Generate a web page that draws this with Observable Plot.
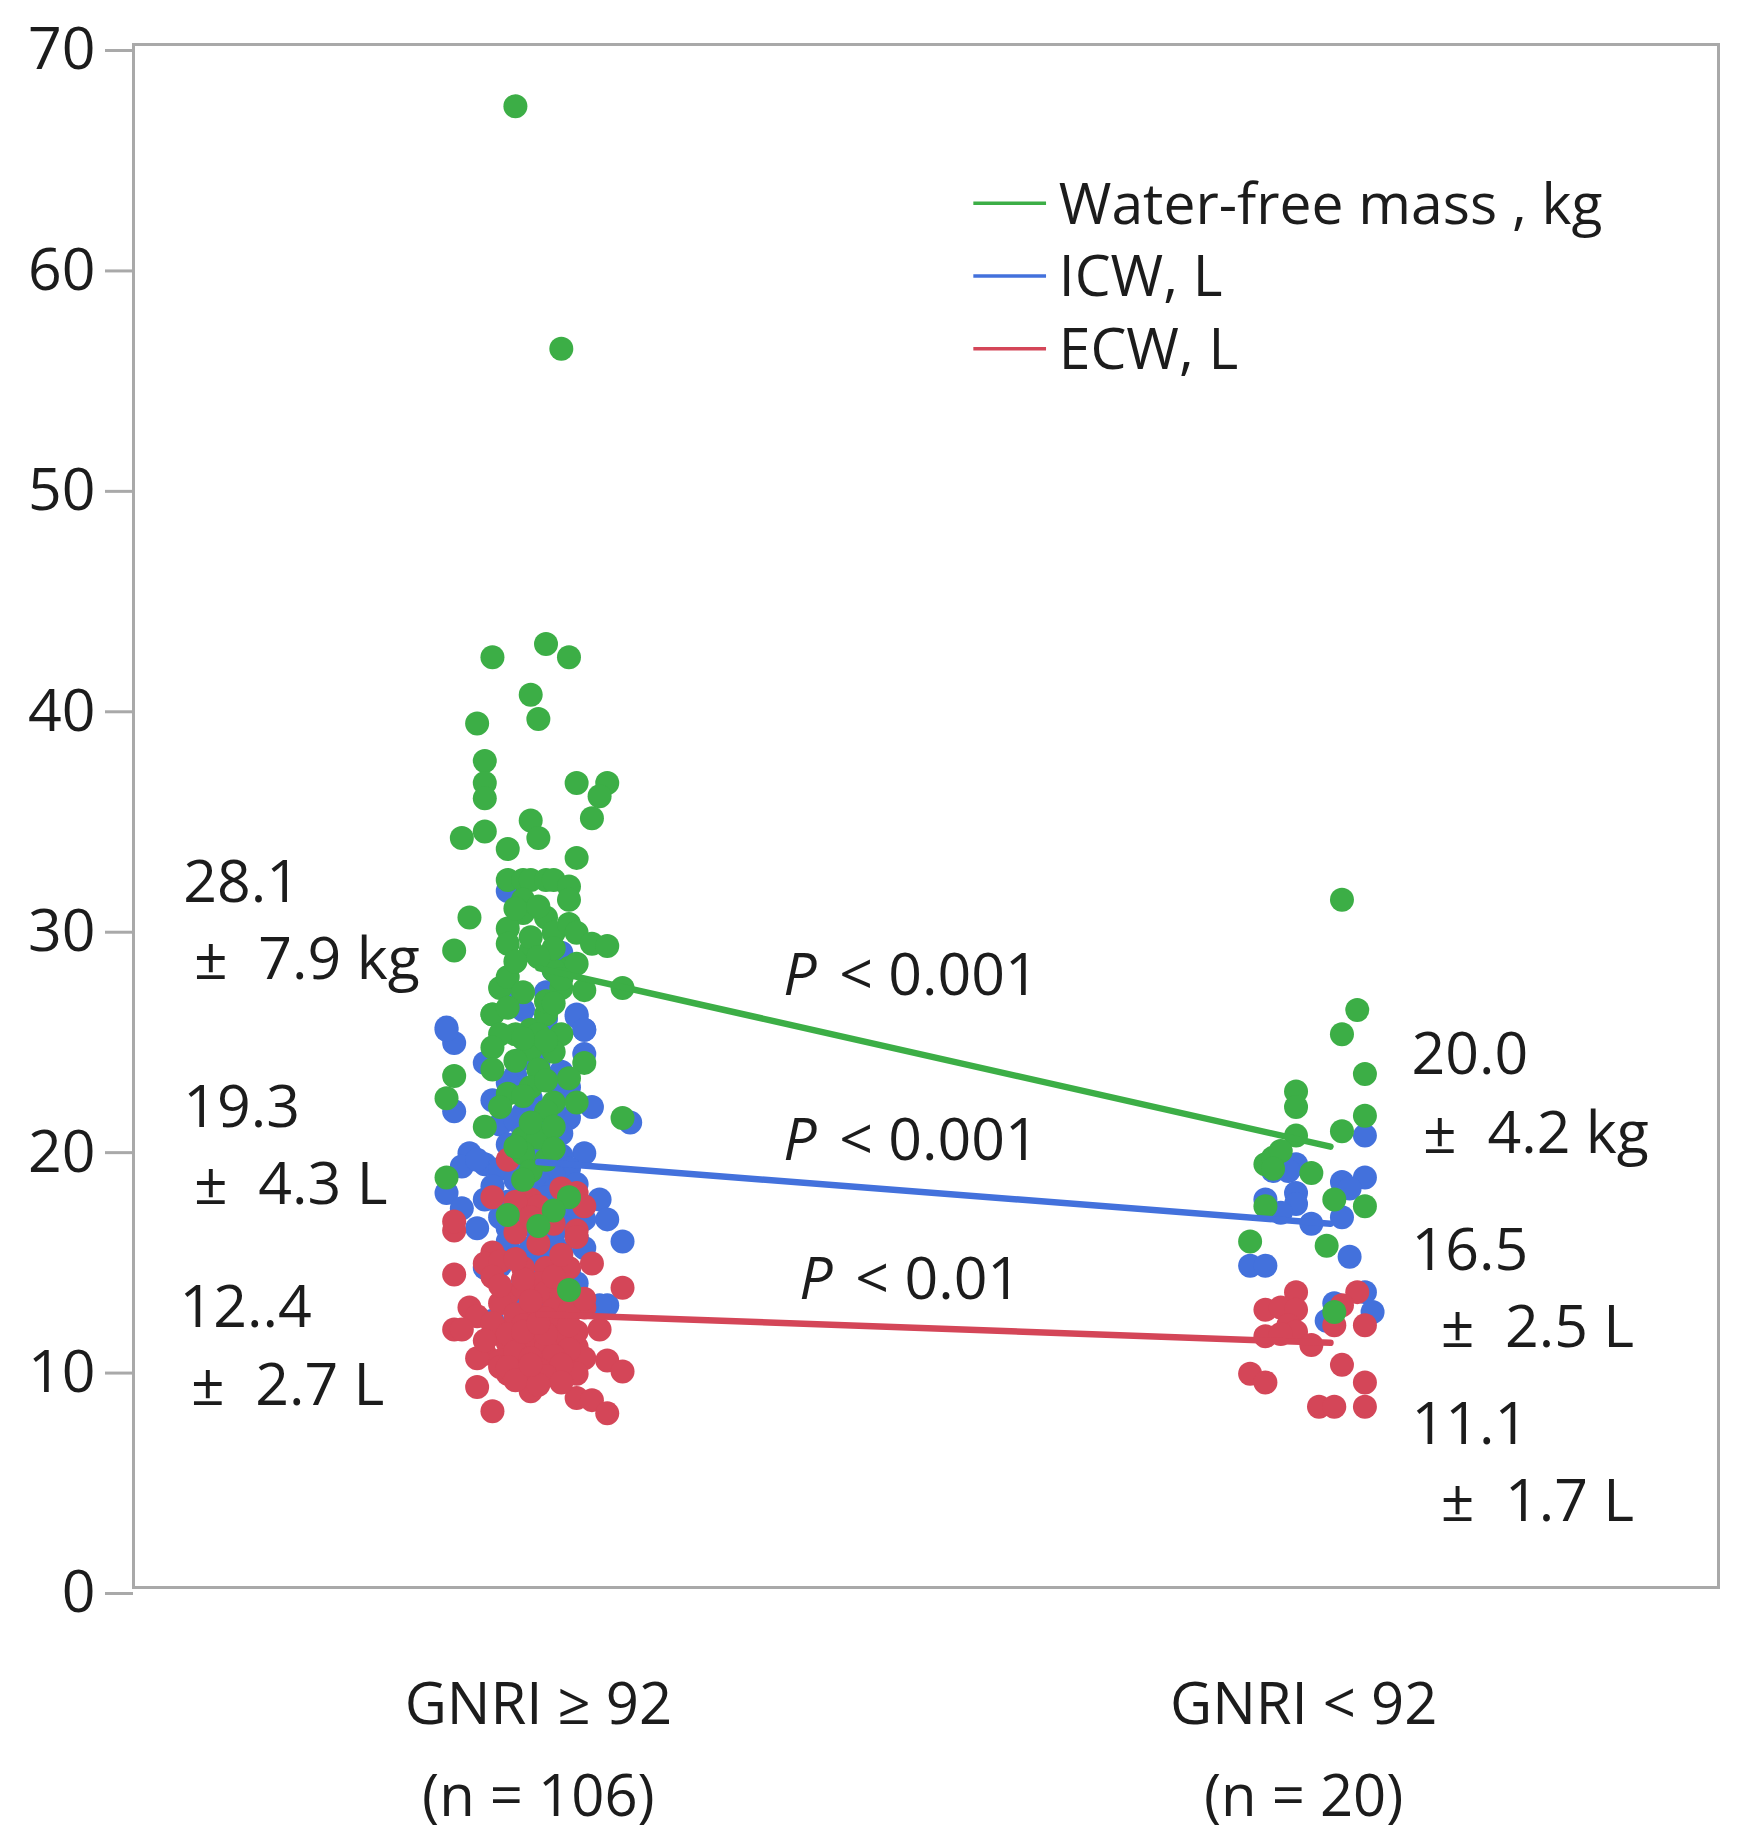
<!DOCTYPE html>
<html>
<head>
<meta charset="utf-8">
<script src="https://cdn.jsdelivr.net/npm/d3@7"></script>
<script src="https://cdn.jsdelivr.net/npm/@observablehq/plot@0.6"></script>
<style>
  body { margin: 0; background: #fff; }
  #chart svg { display: block; }
  #chart text { white-space: pre; }
</style>
</head>
<body>
<div id="chart"></div>
<script>
// categories and series
const groups = ["GNRI ≥ 92", "GNRI < 92"]
const groupN = ["(n = 106)", "(n = 20)"]
const series = ["Water-free mass , kg", "ICW, L", "ECW, L"]
const colors = ["#3cae46", "#4371dc", "#d44658"]
const yTicks = [0, 10, 20, 30, 40, 50, 60, 70]

// patients as [jitter, value], jitter (fraction of category spacing)
const wfmHigh = [
  [-0.03,67.2],[0.03,56.2],
  [-0.06,42.2],[0.01,42.8],[0.04,42.2],[-0.01,40.5],[-0.08,39.2],[0.00,39.4],[-0.07,37.5],[-0.07,36.5],
  [-0.07,35.8],[0.05,36.5],[0.09,36.5],[0.08,35.9],[0.07,34.9],[-0.01,34.8],[0.00,34.0],[-0.10,34.0],
  [-0.07,34.3],[-0.04,33.5],[0.05,33.1],
  [-0.04,32.1],[-0.02,32.1],[-0.01,32.1],[0.01,32.1],[0.02,32.1],
  [0.04,31.8],[0.04,31.2],[-0.02,31.2],[-0.02,30.6],[-0.09,30.4],[-0.04,29.9],[0.01,30.4],[0.02,29.7],
  [0.04,30.1],[0.05,29.7],[0.07,29.2],[0.09,29.1],[-0.11,28.9],[-0.04,29.2],[-0.01,28.9],
  [0.04,28.1],[0.05,28.3],[0.02,28.0],[0.11,27.2],[-0.05,27.2],[-0.04,27.7],[0.06,27.1],[0.03,27.2],
  [-0.06,26.0],[-0.01,25.3],
  [-0.06,26.0],[0.01,26.0],[-0.03,25.1],[-0.05,25.1],[0.00,25.1],[0.03,25.1],[-0.06,24.5],[-0.01,24.4],
  [0.06,23.8],[-0.06,23.5],[-0.11,23.2],[0.00,23.5],[0.04,23.1],[-0.01,22.7],[-0.04,22.4],[-0.12,22.2],
  [-0.05,21.8],[0.02,22.0],[0.05,22.0],[0.11,21.3],[-0.07,20.9],[-0.02,20.4],[0.00,20.4],[-0.02,19.7],
  [0.01,19.4],[-0.01,18.9],[-0.12,18.6],[0.04,17.7],[0.02,17.1],[-0.04,16.9],[0.00,16.4],[0.04,13.5],
  [-0.03,30.8],[0.00,30.9],[-0.01,29.5],[0.02,29.0],[-0.03,28.4],[0.00,28.6],[0.03,27.6],[-0.02,27.0],
  [0.01,26.6],[-0.04,26.3],[0.02,26.5],[-0.02,24.9],[0.02,24.3],[-0.03,23.9],[0.01,23.0],[-0.02,22.3],
  [0.01,21.6],[-0.01,21.1],[0.02,20.9],[-0.03,20.0],[0.02,19.9],[-0.02,18.5],[0.01,24.8]
]
const icwHigh = [
  [-0.12,25.4],[-0.11,24.7],[0.05,26.0],[0.06,25.3],[-0.07,23.8],[-0.03,23.2],[0.04,22.7],[-0.11,21.6],
  [-0.06,22.1],[0.04,21.3],[-0.02,21.5],[0.12,21.1],[-0.09,19.7],[-0.07,19.2],[-0.03,20.0],[0.06,19.7],
  [-0.12,17.9],[-0.10,17.2],[-0.07,17.6],[-0.08,16.3],[-0.04,16.3],[0.00,18.1],[0.02,16.1],[0.06,16.7],
  [0.08,17.6],[0.09,16.7],[0.11,15.7],[0.06,15.4],[-0.07,14.5],[0.05,13.8],[0.09,12.8],[0.08,12.8],
  [-0.06,12.1],[-0.01,15.0],[-0.01,22.2],
  [-0.03,26.8],[0.01,27.0],[-0.12,25.3],[0.05,25.9],[0.06,25.3],[-0.04,31.6],[0.03,28.8],
  [-0.10,19.1],[-0.08,19.4],[0.06,24.2],[0.02,23.1],[0.01,20.7],[-0.05,21.0],[0.07,21.8],
  [-0.02,24.0],[0.00,23.7],[-0.04,22.9],[0.03,22.5],[-0.01,21.9],[0.02,21.7],[-0.03,21.2],[0.00,21.0],
  [0.03,20.6],[-0.02,20.5],[0.01,20.2],[-0.04,20.1],[0.00,19.8],[0.03,19.6],[-0.02,19.5],[0.01,19.3],
  [-0.05,19.0],[0.04,19.0],[-0.01,18.8],[0.02,18.7],[-0.03,18.5],[0.00,18.4],[0.05,18.3],[-0.06,18.2],
  [0.02,18.0],[-0.02,17.8],[0.01,17.7],[-0.04,17.5],[0.03,17.4],[0.00,17.2],[-0.02,17.0],[0.04,16.9],
  [-0.05,16.8],[0.01,16.6],[-0.01,16.5],[0.03,16.4],[-0.03,16.2],[0.00,16.0],[0.05,15.9],[-0.04,15.7],
  [0.02,15.6],[-0.01,15.4],[0.03,15.2],[-0.03,15.0],[0.01,14.8],[-0.05,14.6],[0.04,14.4],[0.00,14.2],
  [-0.02,13.9],[0.02,13.6],[-0.03,13.2],[0.01,12.9],[0.03,23.4],[-0.01,24.5],[0.01,25.8],[-0.02,26.2],
  [0.02,28.0]
]
const ecwHigh = [
  [-0.04,19.4],[-0.06,17.7],[-0.01,17.6],[0.00,17.3],[0.03,18.1],[0.05,17.9],[0.06,17.3],[-0.11,16.2],
  [-0.11,16.6],[-0.03,16.1],[0.00,15.6],[0.05,16.2],[0.05,15.9],[-0.06,15.2],[-0.07,14.7],[-0.05,14.8],
  [-0.02,14.5],[0.07,14.7],[0.01,14.5],[0.04,14.5],[-0.11,14.2],[-0.06,14.1],[0.00,13.8],[-0.04,13.3],
  [0.11,13.6],[0.02,13.0],[-0.09,12.7],[-0.08,12.3],[-0.11,11.7],[-0.10,11.7],[-0.06,11.5],[-0.03,12.1],
  [0.00,12.3],[0.03,12.1],[0.06,12.7],[0.08,11.7],[-0.04,11.1],[-0.01,11.2],[0.02,11.1],[0.05,10.9],
  [-0.07,10.6],[-0.05,10.3],[-0.02,10.3],[0.01,10.2],[0.04,10.3],[0.06,10.4],[-0.04,9.7],[-0.01,9.5],
  [0.02,9.7],[0.05,9.7],[0.09,10.3],[0.11,9.8],[-0.08,9.1],[-0.01,8.9],[0.05,8.6],[0.07,8.5],
  [-0.06,8.0],[0.09,7.9],[-0.05,10.0],[0.00,10.6],[-0.08,10.4],[-0.03,17.5],
  [-0.02,13.6],[0.01,13.4],[0.03,13.2],[-0.05,12.9],[-0.01,12.8],[0.02,12.6],[0.04,12.5],[-0.03,12.4],
  [0.01,12.2],[-0.06,12.0],[-0.02,11.9],[0.02,11.8],[0.05,11.6],[-0.04,11.5],[0.00,11.4],[0.03,11.3],
  [-0.07,11.2],[-0.02,11.0],[0.01,10.9],[0.04,10.8],[-0.03,10.7],[0.02,10.5],[-0.01,10.4],[0.03,10.1],
  [-0.04,10.0],[0.00,9.9],[0.01,9.6],[-0.03,9.4],[0.03,9.3],[0.00,9.2],[-0.02,14.0],[0.02,14.1],
  [-0.03,14.9],[0.03,15.1],[-0.01,16.8],[0.02,16.5],[-0.05,13.7],[0.06,13.1],[-0.02,11.6],[0.01,11.5],
  [0.04,11.9],[-0.01,10.1],[0.00,12.0],[-0.01,13.0]
]
const wfmLow = [
  [0.05,31.2],[0.07,26.2],[0.05,25.1],[0.08,23.3],[-0.01,22.5],[-0.01,21.8],[0.08,21.4],[0.05,20.7],
  [-0.01,20.5],[-0.05,19.2],[-0.04,19.5],[-0.03,19.8],[0.01,18.8],[0.04,17.6],[0.08,17.3],[-0.05,17.3],
  [-0.07,15.7],[0.03,15.5],[0.04,12.5],[-0.04,19.0]
]
const icwLow = [
  [0.08,20.5],[-0.01,19.2],[-0.02,18.9],[0.05,18.4],[0.08,18.6],[0.06,18.1],[-0.01,17.9],[-0.01,17.4],
  [-0.05,17.6],[0.01,16.5],[0.06,15.0],[-0.07,14.6],[-0.05,14.6],[0.08,13.4],[0.09,12.5],[0.03,12.1],
  [0.04,12.9],[-0.04,18.9],[0.05,16.8],[-0.03,17.0]
]
const ecwLow = [
  [-0.01,13.4],[0.07,13.4],[-0.05,12.6],[-0.03,12.7],[-0.01,12.6],[0.05,12.8],[-0.05,11.4],[-0.02,11.9],
  [-0.01,11.6],[0.01,11.0],[0.04,11.9],[0.08,11.9],[0.05,10.1],[0.08,9.3],[-0.07,9.7],[-0.05,9.3],
  [0.02,8.2],[0.04,8.2],[0.08,8.2],[-0.03,11.5]
]

// group means (high, low) and the printed summaries
const meanWfm = [28.1, 20.0]
const meanIcw = [19.3, 16.5]
const meanEcw = [12.4, 11.1]
const leftLabels = ["28.1", "±  7.9 kg", "19.3", "±  4.3 L", "12..4", "±  2.7 L"]
const rightLabels = ["20.0", "±  4.2 kg", "16.5", "±  2.5 L", "11.1", "±  1.7 L"]
const pValues = ["< 0.001", "< 0.001", "< 0.01"]

const ink = "#1c1c1c"
const grid = "#a9a9a9"
const font = 59

// flatten into rows for the library
const rows = (pairs, g, s) => pairs.map(([j, v]) => ({x: g + j, v, s: series[s]}))
const dots = [
  ...rows(icwHigh, 0, 1), ...rows(icwLow, 1, 1),
  ...rows(ecwHigh, 0, 2), ...rows(ecwLow, 1, 2),
  ...rows(wfmHigh, 0, 0), ...rows(wfmLow, 1, 0)
]
const means = [meanWfm, meanIcw, meanEcw]
// SPSS ends the mean lines a little right of the second category
const meanAt = [0, 1.035]
const meanRows = series.flatMap((s, k) => means[k].map((v, g) => ({x: meanAt[g], v, s})))

// where the summary texts sit (x in category units, y = baseline value)
const leftPos = [[-0.464, 31.1], [-0.450, 27.6], [-0.464, 20.9], [-0.450, 17.4], [-0.469, 11.8], [-0.454, 8.3]]
const rightPos = [[1.141, 23.3], [1.156, 19.7], [1.141, 14.4], [1.179, 10.9], [1.141, 6.5], [1.179, 3.0]]
const pPos = [[0.320, 26.9], [0.320, 19.4], [0.341, 13.1]]

let chart = Plot.plot({
  width: 1750,
  height: 1847,
  marginLeft: 133,
  marginRight: 32,
  marginTop: 44,
  marginBottom: 260,
  style: {fontFamily: "'Open Sans', sans-serif", background: "#fff", color: ink},
  x: {domain: [-0.529, 1.542], axis: null},
  y: {domain: [0, 70], axis: null},
  color: {domain: series, range: colors},
  marks: [
    Plot.frame({stroke: grid, strokeWidth: 3}),
    Plot.axisY({ticks: yTicks, tickSize: 28, tickPadding: 10, fontSize: 59, stroke: grid, strokeWidth: 3,
      color: ink, label: null, dy: 6}),
    Plot.text(groups, {x: (d, i) => i, frameAnchor: "bottom", text: (d, i) => d + "\n" + groupN[i],
      lineAnchor: "top", dy: 71, fontSize: 58, lineHeight: 1.59, fill: ink}),
    Plot.dot(dots, {x: "x", y: "v", fill: "s", r: 12}),
    Plot.line(meanRows, {x: "x", y: "v", z: "s", stroke: "s", strokeWidth: 6.5}),
    // legend
    Plot.ruleY(series, {y: (d, i) => 62.8 - i * 3.3, x1: 0.569, x2: 0.664, stroke: d => d, strokeWidth: 3.5}),
    Plot.text(series, {x: 0.68, y: (d, i) => 62.7 - i * 3.3, text: d => d, textAnchor: "start",
      lineAnchor: "middle", fontSize: 57, fill: ink}),
    // mean ± SD
    Plot.text(leftLabels, {x: (d, i) => leftPos[i][0], y: (d, i) => leftPos[i][1], text: d => d,
      textAnchor: "start", lineAnchor: "bottom", fontSize: font, fill: ink}),
    Plot.text(rightLabels, {x: (d, i) => rightPos[i][0], y: (d, i) => rightPos[i][1], text: d => d,
      textAnchor: "start", lineAnchor: "bottom", fontSize: font, fill: ink}),
    // P values
    Plot.text(pValues, {x: (d, i) => pPos[i][0], y: (d, i) => pPos[i][1], text: () => "P",
      textAnchor: "start", lineAnchor: "bottom", fontSize: 59, fontStyle: "italic", fill: ink}),
    Plot.text(pValues, {x: (d, i) => pPos[i][0], y: (d, i) => pPos[i][1], text: d => d, dx: 56,
      textAnchor: "start", lineAnchor: "bottom", fontSize: 59, fill: ink})
  ]
})

d3.select('#chart').append(() => chart)
</script>
</body>
</html>
